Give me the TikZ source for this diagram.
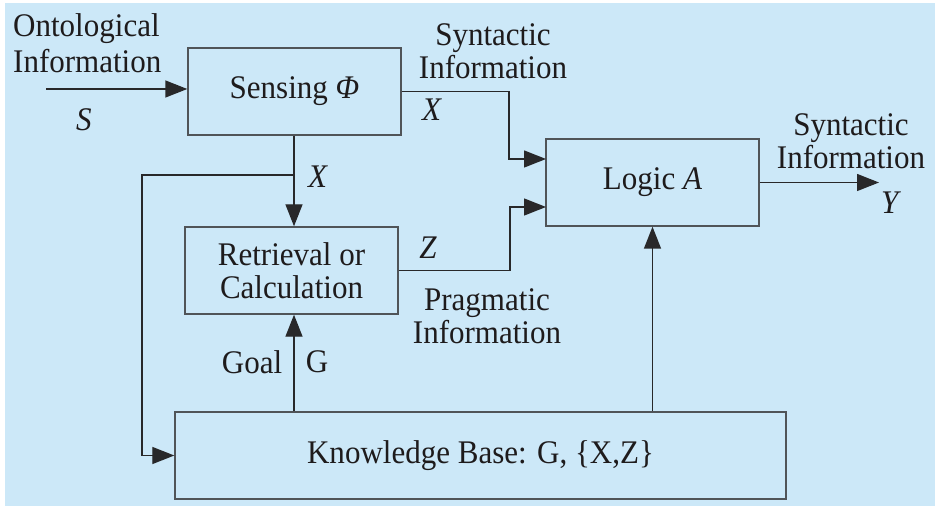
\documentclass[tikz,border=0pt]{standalone}
\usepackage{fontspec}
\setmainfont{Liberation Serif}[FakeStretch=0.94]
\usetikzlibrary{arrows.meta}
\definecolor{bgblue}{RGB}{204,232,248}
\definecolor{boxgray}{RGB}{80,84,88}
\definecolor{linedark}{RGB}{40,40,42}
\definecolor{txt}{RGB}{30,27,28}
\begin{document}
\begin{tikzpicture}[x=1bp,y=-1bp,
  font=\fontsize{33bp}{33bp}\selectfont, text=txt,
  blockbox/.style={draw=boxgray, line width=1.4bp, minimum width=213bp, minimum height=87bp, inner sep=0pt, align=center},
  conn/.style={draw=linedark, line width=1.4bp},
  arr/.style={conn, -{Triangle[length=22bp,width=17bp]}},
  lbl/.style={inner sep=0pt, align=center}]
\fill[white] (0,0) rectangle (935,506);
\fill[bgblue] (5,3) rectangle (935,506);
\useasboundingbox (0,0) rectangle (935,506);

\node[blockbox] (sense) at (294.5,91.5) {Sensing \textit{Φ}};
\node[blockbox] (retr) at (291.5,270.5) {Retrieval or\\Calculation};
\node[blockbox] (logic) at (652.5,182.5) {Logic \textit{A}};
\node[blockbox, minimum width=611bp] (kb) at (480.5,455.5) {Knowledge Base: G, \{X,Z\}};

\coordinate (in) at (46,89);
\coordinate (bend1) at (509,159);
\coordinate (l1) at (546,159);
\coordinate (bend2) at (510,207);
\coordinate (l2) at (546,207);
\coordinate (out) at (879,182.5);
\coordinate (br) at (294,175);
\coordinate (brl) at (142,175);

\draw[arr] (in) -- (in -| sense.west);
\draw[arr] (sense.east) -| (bend1) -- (l1);
\draw[arr] (retr.east) -| (bend2) -- (l2);
\draw[arr] (logic.east) -- (out);
\draw[arr] (br |- sense.south) -- (br |- retr.north);
\draw[arr] (br) -- (brl) |- (kb.west);
\draw[arr] (br |- kb.north) -- (br |- retr.south);
\draw[arr] (logic.south |- kb.north) -- (logic.south);

\node[lbl, anchor=west, align=left] (onto) at (13,43) {Ontological\\[3bp]Information};
\node[lbl] (s) at (84,120) {\textit{S}};
\node[lbl] (x1) at (432,110) {\textit{X}};
\node[lbl] (x2) at (318,177) {\textit{X}};
\node[lbl] (z) at (428,248) {\textit{Z}};
\node[lbl] (syn1) at (493,51) {Syntactic\\Information};
\node[lbl] (syn2) at (851,141) {Syntactic\\Information};
\node[lbl] (y) at (891,203) {\textit{Y}};
\node[lbl] (prag) at (487,316) {Pragmatic\\Information};
\node[lbl] (goal) at (252,362) {Goal};
\node[lbl] (g) at (317,362) {G};
\end{tikzpicture}
\end{document}
